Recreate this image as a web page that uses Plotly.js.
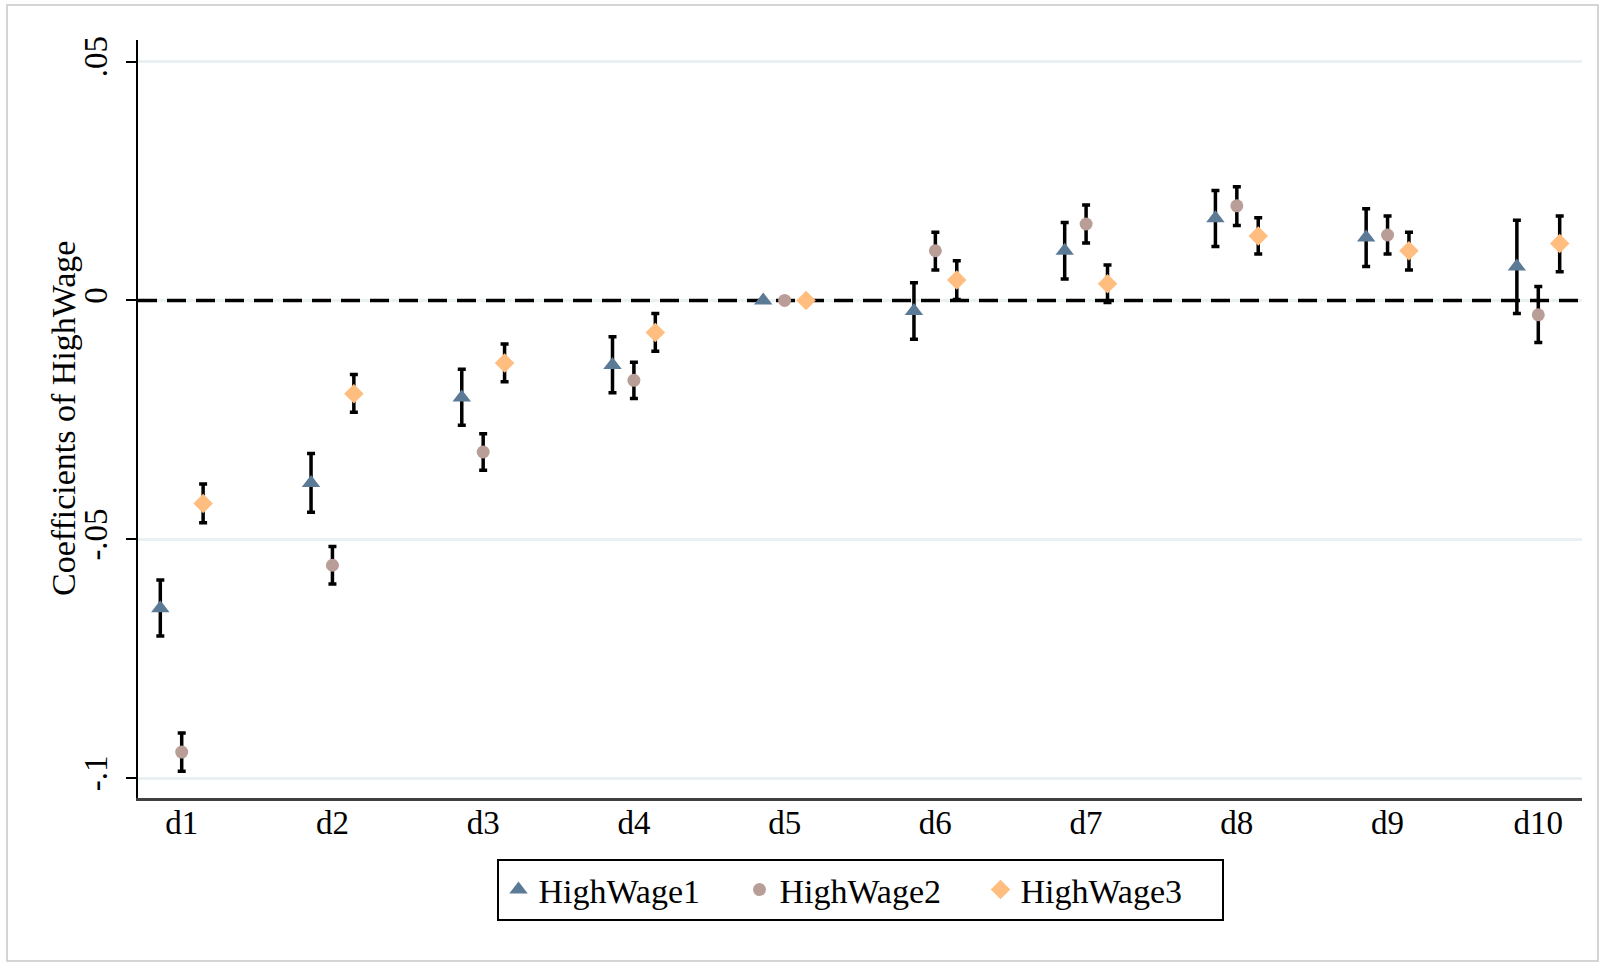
<!DOCTYPE html>
<html>
<head>
<meta charset="utf-8">
<script src="https://cdn.plot.ly/plotly-3.0.1.min.js"></script>
<style>
  html, body { margin: 0; padding: 0; background: #ffffff; }
  #chart { width: 1604px; height: 964px; }
</style>
</head>
<body>
<div id="chart"></div>
<script>
// Decile categories on the horizontal axis
const categories = ['d1', 'd2', 'd3', 'd4', 'd5', 'd6', 'd7', 'd8', 'd9', 'd10'];

// Point estimates (d5 is the omitted reference decile, fixed at 0)
const hw1Coef = [-0.0644, -0.0382, -0.0203, -0.0135, 0, -0.0022, 0.0104, 0.0172, 0.0132, 0.0071];
const hw2Coef = [-0.0945, -0.0554, -0.0317, -0.0167, 0, 0.0104, 0.0160, 0.0198, 0.0137, -0.0030];
const hw3Coef = [-0.0425, -0.0195, -0.0131, -0.0067, 0, 0.0043, 0.0035, 0.0135, 0.0104, 0.0119];

// Confidence interval bounds (none for the reference decile)
const hw1Lo = [-0.0702, -0.0443, -0.0261, -0.0193, null, -0.0081, 0.0045, 0.0113, 0.0071, -0.0027];
const hw1Hi = [-0.0585, -0.0320, -0.0144, -0.0076, null, 0.0037, 0.0163, 0.0230, 0.0192, 0.0168];
const hw2Lo = [-0.0985, -0.0593, -0.0355, -0.0205, null, 0.0064, 0.0120, 0.0157, 0.0097, -0.0088];
const hw2Hi = [-0.0905, -0.0515, -0.0279, -0.0129, null, 0.0143, 0.0200, 0.0238, 0.0177, 0.0029];
const hw3Lo = [-0.0465, -0.0234, -0.0170, -0.0106, null, 0.0002, -0.0004, 0.0097, 0.0064, 0.0060];
const hw3Hi = [-0.0384, -0.0155, -0.0091, -0.0027, null, 0.0083, 0.0074, 0.0173, 0.0143, 0.0177];

// Y axis tick labels
const yTickVals = [0.05, 0, -0.05, -0.1];
const yTickText = ['.05', '0', '-.05', '-.1'];

const seriesNames = ['HighWage1', 'HighWage2', 'HighWage3'];
const yTitle = 'Coefficients of HighWage';

const FONT = 'Liberation Serif, Times New Roman, Times, serif';

function errPlus(coef, hi) {
  return coef.map((c, i) => hi[i] == null ? NaN : hi[i] - c);
}
function errMinus(coef, lo) {
  return coef.map((c, i) => lo[i] == null ? NaN : c - lo[i]);
}

const catPos = categories.map((_, i) => i + 1);
const dodge = 0.142;
const xRange = [0.71, 10.29];

function makeTrace(name, coef, lo, hi, shift, symbol, size, color) {
  return {
    type: 'scatter',
    mode: 'markers',
    name: name,
    x: catPos.map(p => p + shift),
    y: coef,
    marker: { symbol: symbol, size: size, color: color, line: { width: 0 } },
    error_y: {
      type: 'data',
      symmetric: false,
      array: errPlus(coef, hi),
      arrayminus: errMinus(coef, lo),
      color: '#000000',
      thickness: 3.5,
      width: 4
    },
    hoverinfo: 'x+y'
  };
}

// Dashed reference line at zero, drawn beneath the estimates
const zeroLine = {
  type: 'scatter',
  mode: 'lines',
  x: xRange,
  y: [0, 0],
  line: { color: '#000000', width: 3.5, dash: '19px,10px' },
  showlegend: false,
  hoverinfo: 'skip'
};

const traces = [
  zeroLine,
  makeTrace(seriesNames[0], hw1Coef, hw1Lo, hw1Hi, -dodge, 'triangle-up', 16, '#5b7a96'),
  makeTrace(seriesNames[1], hw2Coef, hw2Lo, hw2Hi, 0, 'circle', 13, '#b99e98'),
  makeTrace(seriesNames[2], hw3Coef, hw3Lo, hw3Hi, dodge, 'diamond', 15, '#ffbd7f')
];

const W = 1604, H = 964;
const M = { l: 138, r: 22, t: 40, b: 166 };
const plotW = W - M.l - M.r, plotH = H - M.t - M.b;
const px2x = px => (px - M.l) / plotW;
const px2y = py => (H - M.b - py) / plotH;

const layout = {
  width: W,
  height: H,
  margin: M,
  paper_bgcolor: '#ffffff',
  plot_bgcolor: '#ffffff',
  font: { family: FONT, size: 32, color: '#000000' },
  showlegend: true,
  xaxis: {
    range: xRange,
    tickmode: 'array',
    tickvals: catPos,
    ticktext: categories,
    ticks: '',
    showgrid: false,
    zeroline: false,
    showline: true,
    linecolor: '#404040',
    linewidth: 2.5,
    ticklabelstandoff: -6,
    tickfont: { family: FONT, size: 33, color: '#000000' },
    fixedrange: true
  },
  yaxis: {
    range: [-0.1041, 0.0545],
    tickmode: 'array',
    tickvals: yTickVals,
    ticktext: yTickText,
    tickangle: -90,
    ticks: 'outside',
    ticklen: 10,
    tickwidth: 2,
    tickcolor: '#000000',
    showline: true,
    linecolor: '#000000',
    linewidth: 2,
    showgrid: true,
    gridcolor: '#e9f1f2',
    gridwidth: 2.5,
    zeroline: false,
    ticklabelstandoff: 6,
    tickfont: { family: FONT, size: 33, color: '#000000' },
    automargin: false,
    fixedrange: true
  },
  annotations: [
    {
      // vertical axis title
      text: yTitle,
      xref: 'paper', yref: 'paper',
      x: px2x(63), y: px2y(419),
      xanchor: 'center', yanchor: 'middle',
      textangle: -90,
      showarrow: false,
      font: { family: FONT, size: 34, color: '#000000' }
    }
  ],
  legend: {
    orientation: 'h',
    x: 0.5,
    xanchor: 'center',
    y: px2y(859),
    yanchor: 'top',
    bordercolor: '#000000',
    borderwidth: 2,
    bgcolor: '#ffffff',
    entrywidth: 196,
    entrywidthmode: 'pixels',
    font: { family: FONT, size: 34, color: '#000000' }
  },
  shapes: [
    {
      type: 'rect',
      xref: 'paper', yref: 'paper',
      x0: px2x(7), x1: px2x(1598), y0: px2y(961), y1: px2y(5),
      layer: 'below',
      line: { color: '#c8c8c8', width: 1.5 },
      fillcolor: 'rgba(0,0,0,0)'
    }
  ]
};

Plotly.newPlot('chart', traces, layout, { displayModeBar: false, staticPlot: true });
</script>
</body>
</html>
